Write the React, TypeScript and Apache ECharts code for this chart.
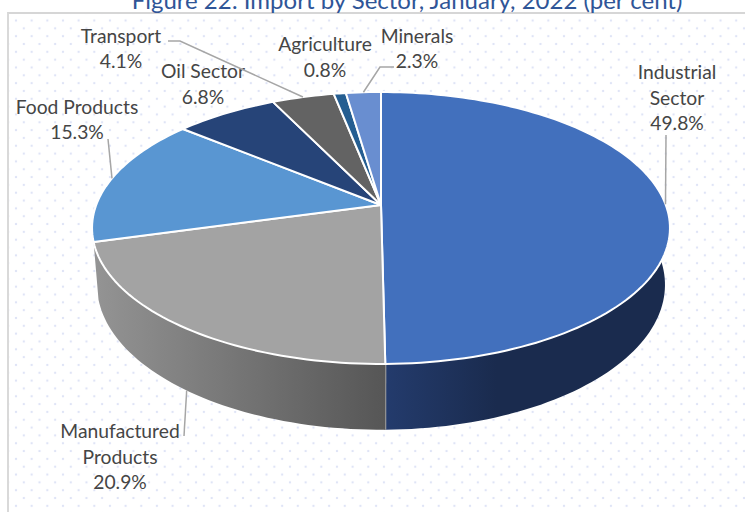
import React, { useEffect, useRef } from "react";
import * as echarts from "echarts";

// Import shares by sector, per cent, clockwise from twelve o'clock.
const categories = [
  "Industrial\nSector",
  "Manufactured\nProducts",
  "Food Products",
  "Oil Sector",
  "Transport",
  "Agriculture",
  "Minerals",
];
const shares = [49.8, 20.9, 15.3, 6.8, 4.1, 0.8, 2.3];
const titleText = "Figure 22: Import by Sector, January, 2022 (per cent)";

const topColors = ["#4270bd", "#a3a3a3", "#5996d2", "#264478", "#636363", "#255e91", "#698ed0"];
const wallStops: Record<number, [number, string][]> = {
  0: [[0, "#243c6e"], [0.4, "#1a2b4e"], [1, "#1a2b4e"]],
  1: [[0, "#949494"], [1, "#565656"]],
};

// Label centre and optional elbow of each leader line.
const labelPlacement: { x: number; y: number; leaderFrom?: [number, number][]; onBase?: boolean }[] = [
  { x: 677, y: 97, leaderFrom: [[666, 135]] },
  { x: 120, y: 456, leaderFrom: [[184, 436]], onBase: true },
  { x: 77, y: 119, leaderFrom: [[108, 139]] },
  { x: 203, y: 83.5 },
  { x: 121, y: 48, leaderFrom: [[168, 41], [180, 41]] },
  { x: 325, y: 56.5 },
  { x: 417, y: 48, leaderFrom: [[394, 67], [380, 67]] },
];

// Tilted disc: a unit circle seen in perspective, so the hub sits above the ellipse centre.
type Disc = { cx: number; cy: number; a: number; b: number; k: number };
const topDisc: Disc = { cx: 381, cy: 205, a: 284.8, b: 132.1, k: 0.169 };
const baseDisc: Disc = { cx: 381, cy: 260.3, a: 279.9, b: 140.8, k: 0.169 };

const project = (d: Disc, deg: number): [number, number] => {
  const t = (deg * Math.PI) / 180;
  const u = Math.sin(t);
  const v = -Math.cos(t);
  const w = 1 - d.k * v;
  return [d.cx + (d.a * u) / w, d.cy + (d.b * v) / w];
};

const total = shares.reduce((s, v) => s + v, 0);
const sliceAngles = (i: number): [number, number] => {
  const before = shares.slice(0, i).reduce((s, v) => s + v, 0);
  return [(before / total) * 360, ((before + shares[i]) / total) * 360];
};

const arc = (d: Disc, from: number, to: number) => {
  const pts: [number, number][] = [];
  const steps = Math.max(4, Math.ceil(Math.abs(to - from) / 1.5));
  for (let s = 0; s <= steps; s++) pts.push(project(d, from + ((to - from) * s) / steps));
  return pts;
};

const renderWall = (params: any) => {
  const i = params.dataIndex;
  const [start, end] = sliceAngles(i);
  if (!(start < 270 && end > 90) || !wallStops[i]) return { type: "group", children: [] };
  const points = [...arc(topDisc, start, end), ...arc(baseDisc, end, start)];
  const children: any[] = [
    {
      type: "polygon",
      shape: { points },
      style: { fill: new echarts.graphic.LinearGradient(0, 0, 1, 0, wallStops[i].map(([offset, color]) => ({ offset, color }))) },
    },
  ];
  if (end > 135 && end < 225) {
    const [x1, y1] = project(topDisc, end);
    const [x2, y2] = project(baseDisc, end);
    children.push({ type: "line", shape: { x1, y1, x2, y2 }, style: { stroke: "#a3a3a3", lineWidth: 2 } });
  }
  return { type: "group", children };
};

const renderTop = (params: any) => {
  const i = params.dataIndex;
  const [start, end] = sliceAngles(i);
  return {
    type: "polygon",
    shape: { points: [[topDisc.cx, topDisc.cy], ...arc(topDisc, start, end)] },
    style: { fill: topColors[i], stroke: "#ffffff", lineWidth: 2, lineJoin: "round" },
  };
};

const renderLabel = (params: any) => {
  const i = params.dataIndex;
  const place = labelPlacement[i];
  const [start, end] = sliceAngles(i);
  const children: any[] = [];
  if (place.leaderFrom) {
    const anchor = project(place.onBase ? baseDisc : topDisc, (start + end) / 2);
    children.push({
      type: "polyline",
      shape: { points: [...place.leaderFrom, anchor] },
      style: { stroke: "#a6a6a6", lineWidth: 1.5, fill: "none" },
    });
  }
  children.push({
    type: "text",
    style: {
      x: place.x,
      y: place.y,
      text: `${categories[i]}\n${shares[i].toFixed(1)}%`,
      align: "center",
      verticalAlign: "middle",
      fontFamily: "Lato",
      fontSize: 19.3,
      lineHeight: 25.5,
      fill: "#454545",
    },
  });
  return { type: "group", children };
};

export default function App() {
  const ref = useRef<HTMLDivElement>(null);
  useEffect(() => {
    const chart = echarts.init(ref.current!, undefined, { renderer: "svg" });
    const data = shares.map((v) => [v]);
    chart.setOption({
      animation: false,
      backgroundColor: "transparent",
      title: {
        text: titleText,
        left: 402,
        top: -18,
        textAlign: "center",
        textStyle: { fontFamily: "Lato", fontSize: 24, fontWeight: "normal", color: "#2f5597" },
      },
      series: [
        { type: "custom", coordinateSystem: "none", silent: true, z: 1, data, renderItem: renderWall },
        { type: "custom", coordinateSystem: "none", silent: true, z: 2, data, renderItem: renderTop },
        { type: "custom", coordinateSystem: "none", silent: true, z: 3, data, renderItem: renderLabel },
      ],
    });
    return () => chart.dispose();
  }, []);

  const dot = "radial-gradient(circle, #dfe4f6 0.9px, rgba(255,255,255,0) 1.6px)";
  return (
    <div style={{ position: "fixed", left: 0, top: 0, width: 745, height: 512, overflow: "hidden", background: "#fff" }}>
      <div
        style={{
          position: "absolute",
          left: 7,
          top: 12,
          right: 0,
          bottom: 0,
          borderLeft: "2px solid #d9d9d9",
          borderTop: "2px solid #d6d6d6",
          backgroundImage: `${dot}, ${dot}`,
          backgroundSize: "15.67px 15.67px",
          backgroundPosition: "-0.83px -1.33px, 7px 6.5px",
        }}
      />
      <div ref={ref} style={{ position: "absolute", left: 0, top: 0, width: 745, height: 512 }} />
    </div>
  );
}
